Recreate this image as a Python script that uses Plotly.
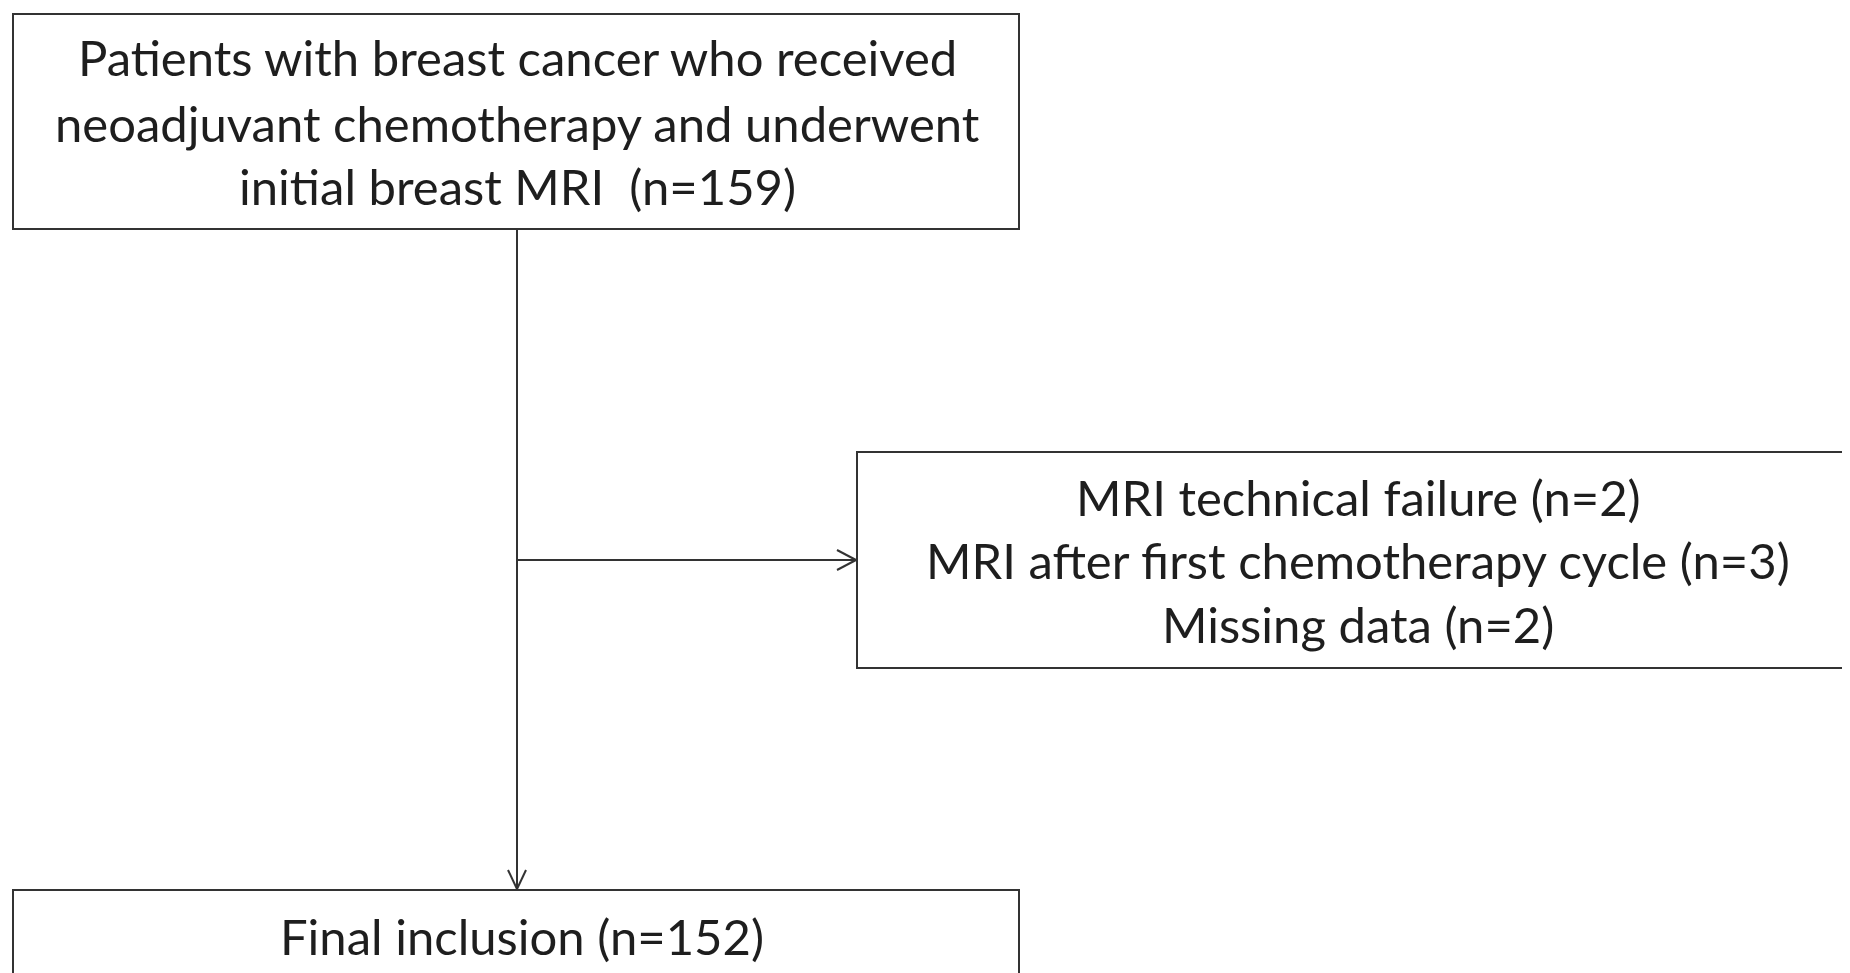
import plotly.graph_objects as go

# ---- content ----
top_lines = ["Patients with breast cancer who received",
             "neoadjuvant chemotherapy and underwent",
             "initial breast MRI  (n=159)"]
excl_lines = ["MRI technical failure (n=2)",
              "MRI after first chemotherapy cycle (n=3)",
              "Missing data (n=2)"]
final_lines = ["Final inclusion (n=152)"]

# ---- layout geometry (page pixels, y downward) ----
W, H = 1850, 973
PAGE_OFF = 8  # default body margin of the html page
boxes = {
    "top":   dict(x0=13, x1=1019, y0=14, y1=229, cx=517, cy=[57, 123, 186], lines=top_lines),
    "excl":  dict(x0=857, x1=1862, y0=452, y1=668, cx=1358, cy=[497, 560, 624], lines=excl_lines),
    "final": dict(x0=13, x1=1019, y0=890, y1=990, cx=522, cy=[936], lines=final_lines),
}
trunk_x = 517
branch_y = 560
LINE = "#333333"
TXT = "#1e1e1e"
FONT = "Lato"
FSIZE = 49

fig = go.Figure()
shapes = []
annotations = []

for key, b in boxes.items():
    shapes.append(dict(type="rect", x0=b["x0"], x1=b["x1"], y0=b["y0"], y1=b["y1"],
                       line=dict(color=LINE, width=2), fillcolor="white", layer="below"))
    for t, y in zip(b["lines"], b["cy"]):
        annotations.append(dict(x=b["cx"], y=y, text=t, showarrow=False, xanchor="center",
                                yanchor="middle", font=dict(family=FONT, size=FSIZE, color=TXT)))

# connectors
shapes.append(dict(type="line", x0=trunk_x, x1=trunk_x, y0=boxes["top"]["y1"], y1=boxes["final"]["y0"],
                   line=dict(color=LINE, width=2)))
shapes.append(dict(type="line", x0=trunk_x, x1=boxes["excl"]["x0"], y0=branch_y, y1=branch_y,
                   line=dict(color=LINE, width=2)))

def chevron(tx, ty, dx, dy):
    # open arrowhead: two short strokes meeting at the tip
    return [dict(type="line", x0=tx, y0=ty, x1=tx + dx[0], y1=ty + dy[0], line=dict(color=LINE, width=2)),
            dict(type="line", x0=tx, y0=ty, x1=tx + dx[1], y1=ty + dy[1], line=dict(color=LINE, width=2))]

shapes += chevron(boxes["excl"]["x0"] - 1, branch_y, (-19, -19), (-10, 10))
shapes += chevron(trunk_x, boxes["final"]["y0"] - 1, (-9, 9), (-19, -19))

fig.update_layout(
    width=W, height=H, margin=dict(l=0, r=0, t=0, b=0),
    paper_bgcolor="white", plot_bgcolor="white",
    xaxis=dict(range=[PAGE_OFF, W + PAGE_OFF], visible=False, fixedrange=True),
    yaxis=dict(range=[H + PAGE_OFF, PAGE_OFF], visible=False, fixedrange=True),
    shapes=shapes, annotations=annotations, showlegend=False,
)
fig.write_html("out.html", config={"displayModeBar": False})
